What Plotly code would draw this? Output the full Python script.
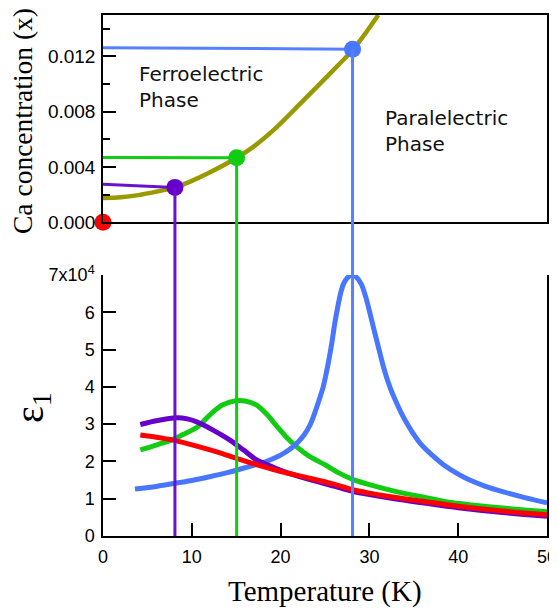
import plotly.graph_objects as go

# ---------------- data ----------------
# bottom panel: dielectric constant eps1 vs temperature (K)
red_T = [4.2, 6, 7.9, 10.55, 13, 15.05, 18.05, 20, 23.3, 26, 28.1, 30, 33, 36, 40, 45, 50]
red_E = [27100, 26500, 25700, 24100, 22400, 20800, 18600, 17300, 15500, 13900, 12400, 11500, 10300, 9300, 8000, 6700, 5700]

purple_T = [4.2, 6, 8.3, 9.5, 10.55, 12.4, 14.3, 15.8, 17.3, 18.8, 20, 23.3, 26, 28.1, 30, 33, 36, 40, 45, 50]
purple_E = [29900, 30900, 31700, 31400, 30600, 28400, 25700, 23100, 20400, 18800, 17600, 15100, 13400, 12000, 11100, 9900, 8900, 7600, 6300, 5300]

green_T = [4.2, 6, 7.9, 9, 10.55, 11.5, 12.4, 13.5, 15.05, 16, 17.3, 18.5, 19.55, 20.5, 21.4, 22.5, 23.3, 25, 26.5, 28.1, 30, 33.8, 36, 39.4, 45, 50]
green_E = [23100, 24400, 25900, 27200, 29100, 31200, 33300, 35200, 36300, 36200, 35100, 32500, 29500, 26900, 24800, 22600, 21300, 19100, 17000, 15200, 13800, 11500, 10500, 8900, 7500, 6500]

blue_T = [3.6, 6, 8, 10, 12, 14, 16, 18, 19, 20, 21, 22, 22.7, 23.3, 23.8, 24.3, 24.8, 25.3, 25.75, 26.1, 26.5, 26.8,
          27.1, 27.5, 28.05, 28.5, 29.1, 29.6, 30.07, 30.5, 31, 31.6, 32.3, 33, 33.8, 34.7, 35.7, 37, 38.3, 40, 41.3,
          43, 45, 47.5, 50]
blue_E = [12600, 13300, 14100, 14900, 15900, 17000, 18300, 19700, 20600, 21700, 23200, 25300, 27300, 29700, 32700,
          36200, 40000, 45500, 51500, 57000, 62200, 65500, 67700, 69200, 70000, 69500, 67500, 64000, 59700, 55500,
          50800, 45200, 40000, 36000, 32000, 28300, 24900, 21800, 19200, 16600, 15000, 13400, 11900, 10300, 8900]

# top panel: phase boundary, Ca concentration vs transition temperature
bnd_T = [0, 2, 4, 6, 8.1, 10, 12, 15.05, 17, 19.2, 22.6, 26.3, 28.2, 31.0]
bnd_x = [0.00176, 0.00181, 0.00197, 0.00222, 0.00253, 0.0030, 0.0036, 0.00467, 0.0055, 0.00667,
         0.00884, 0.01125, 0.01253, 0.0150]

# samples: transition temperature and Ca concentration
samp_T = [0.0, 8.1, 15.05, 28.1]
samp_x = [0.0, 0.00253, 0.00467, 0.01253]
samp_x_left = [0.0, 0.00275, 0.0047, 0.01263]   # value where the guide line meets the axis
samp_colors = ["#FF0000", "#6600CC", "#11CC11", "#4876FF"]
vline_colors = ["#FF0000", "#6a11d0", "#11CC11", "#5580FF"]

x_ticks = [0, 10, 20, 30, 40, 50]
eps_ticks = [0, 10000, 20000, 30000, 40000, 50000, 60000, 70000]
eps_ticktext = ["0", "1", "2", "3", "4", "5", "6", "7x10<sup>4</sup>"]

T_RANGE = [0, 50]
EPS_RANGE = [0, 70000]
X_RANGE = [0, 0.015]
BOT_DOM = [0, 0.501]
TOP_DOM = [0.602, 1.0]

# ---------------- figure ----------------
fig = go.Figure()

curves = [
    (green_T, green_E, "#11CC11"),
    (blue_T, blue_E, "#4876FF"),
    (purple_T, purple_E, "#6600CC"),
    (red_T, red_E, "#FF0000"),
]
for T, E, c in curves:
    fig.add_trace(go.Scatter(x=T, y=E, mode="lines", line=dict(color=c, width=5, shape="spline", smoothing=0.8),
                             xaxis="x", yaxis="y", showlegend=False, hoverinfo="skip", cliponaxis=False))

# top panel boundary curve
fig.add_trace(go.Scatter(x=bnd_T, y=bnd_x, mode="lines", line=dict(color="#999900", width=4.5, shape="spline", smoothing=1.0),
                         xaxis="x2", yaxis="y2", showlegend=False, hoverinfo="skip"))

# horizontal guide lines in top panel
for i in range(1, 4):
    fig.add_trace(go.Scatter(x=[0, samp_T[i]], y=[samp_x_left[i], samp_x[i]], mode="lines",
                             line=dict(color=vline_colors[i], width=3),
                             xaxis="x2", yaxis="y2", showlegend=False, hoverinfo="skip"))

# vertical guide lines from each dot down to the bottom axis
top_h = TOP_DOM[1] - TOP_DOM[0]
for i in range(1, 4):
    y_top = TOP_DOM[0] + (samp_x[i] - X_RANGE[0]) / (X_RANGE[1] - X_RANGE[0]) * top_h
    fig.add_shape(type="line", xref="x", yref="paper", x0=samp_T[i], x1=samp_T[i], y0=BOT_DOM[0], y1=y_top,
                  line=dict(color=vline_colors[i], width=3), layer="above")

# dots
fig.add_trace(go.Scatter(x=samp_T, y=samp_x, mode="markers", marker=dict(color=samp_colors, size=17, line=dict(width=0)),
                         xaxis="x2", yaxis="y2", showlegend=False, cliponaxis=False, hoverinfo="skip"))

tick_font = dict(family="Liberation Sans, Arial, sans-serif", size=18, color="black")

# the page body adds 8 px on the left and top; compensate in size and margins
fig.update_layout(
    width=549, height=602,
    margin=dict(l=95, r=10, t=7, b=74, autoexpand=False),
    paper_bgcolor="white", plot_bgcolor="rgba(0,0,0,0)",
    xaxis=dict(domain=[0, 1], range=T_RANGE, anchor="y", tickmode="array", tickvals=x_ticks,
               ticks="inside", ticklen=13, tickwidth=1.5, tickcolor="black", automargin=False,
               showline=True, linecolor="black", linewidth=1.5, showgrid=False, zeroline=False,
               tickfont=tick_font, mirror=False, ticklabelstandoff=4, ticklabeloverflow="allow"),
    yaxis=dict(domain=BOT_DOM, range=EPS_RANGE, anchor="x", tickmode="array", tickvals=eps_ticks, ticktext=eps_ticktext,
               ticks="inside", ticklen=13, tickwidth=1.5, tickcolor="black", automargin=False,
               showline=True, linecolor="black", linewidth=1.5, showgrid=False, zeroline=False,
               tickfont=tick_font, mirror=True, ticklabelstandoff=3, ticklabeloverflow="allow"),
    xaxis2=dict(domain=[0, 1], range=T_RANGE, anchor="y2", showticklabels=False, ticks="", automargin=False,
                showline=True, linecolor="black", linewidth=1.5, showgrid=False, zeroline=False, mirror=True),
    yaxis2=dict(domain=TOP_DOM, range=X_RANGE, anchor="x2", tick0=0, dtick=0.004, tickformat=".3f",
                ticks="inside", ticklen=13, tickwidth=1.5, tickcolor="black", automargin=False,
                minor=dict(dtick=0.002, tick0=0, ticklen=7, tickwidth=1.5, tickcolor="black", ticks="inside"),
                showline=True, linecolor="black", linewidth=1.5, showgrid=False, zeroline=False,
                tickfont=dict(family="Liberation Sans, Arial, sans-serif", size=19, color="black"),
                mirror=True, ticklabelstandoff=2, ticklabeloverflow="allow"),
)

PW, PH, L, T0 = 444.0, 521.0, 103.0, 15.0
def px(xp):
    return (xp - L) / PW
def py(yp):
    return (T0 + PH - yp) / PH

serif = "Liberation Serif, Times New Roman, serif"
label_font = dict(family="DejaVu Sans, sans-serif", size=20, color="#111111")

fig.add_annotation(text="Ca concentration (x)", xref="paper", yref="paper", x=px(23), y=py(121),
                   textangle=-90, showarrow=False, font=dict(family=serif, size=27.5, color="black"),
                   xanchor="center", yanchor="middle")
fig.add_annotation(text="ε<sub>1</sub>", xref="paper", yref="paper", x=px(32), y=py(408),
                   textangle=-90, showarrow=False, font=dict(family=serif, size=40, color="black"),
                   xanchor="center", yanchor="middle")
fig.add_annotation(text="Temperature (K)", xref="paper", yref="paper", x=0.5, y=py(591),
                   showarrow=False, font=dict(family=serif, size=29, color="black"),
                   xanchor="center", yanchor="middle")
fig.add_annotation(text="Ferroelectric<br>Phase", xref="paper", yref="paper", x=px(137), y=py(60),
                   showarrow=False, font=label_font, xanchor="left", yanchor="top", align="left")
fig.add_annotation(text="Paralelectric<br>Phase", xref="paper", yref="paper", x=px(383), y=py(104),
                   showarrow=False, font=label_font, xanchor="left", yanchor="top", align="left")

fig.write_html("out.html")
